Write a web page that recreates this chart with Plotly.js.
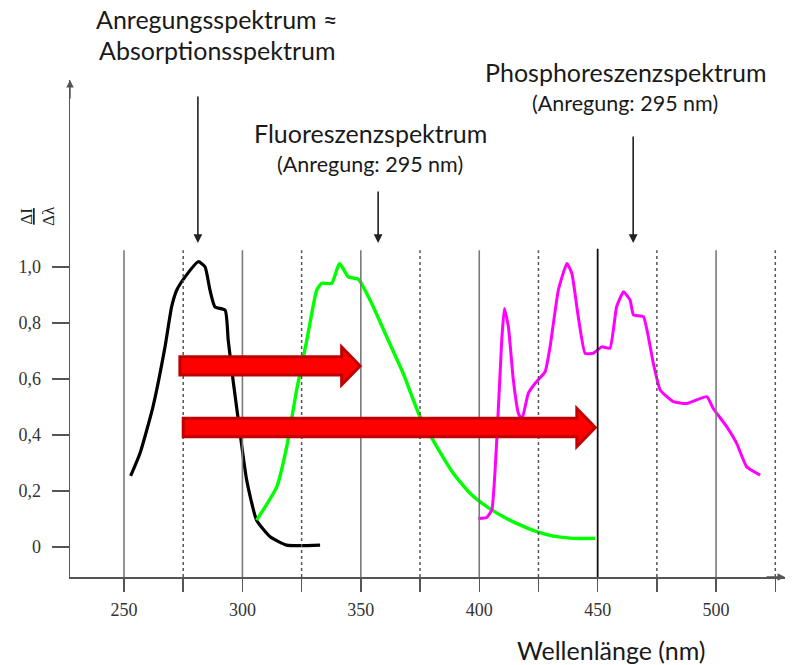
<!DOCTYPE html>
<html>
<head>
<meta charset="utf-8">
<script src="https://cdn.plot.ly/plotly-3.0.1.min.js"></script>
<style>html,body{margin:0;padding:0;background:#fff;}#chart{width:796px;height:665px;}</style>
</head>
<body>
<div id="chart"></div>
<script>
// Absorption / excitation spectrum (black)
const absWl  = [252.8, 256.8, 262.2, 267.3, 270.1, 272.3, 275.8, 281.4, 284.2, 286.3, 288.4, 292.7, 294.0, 296.2, 299.0, 301.8, 306.0, 311.7, 318.7, 332.8];
const absVal = [0.254, 0.336, 0.50, 0.714, 0.858, 0.918, 0.965, 1.019, 1.001, 0.918, 0.858, 0.846, 0.739, 0.586, 0.407, 0.239, 0.096, 0.037, 0.007, 0.007];

// Fluorescence spectrum (green)
const fluWl  = [306.0, 314.5, 318.7, 322.9, 327.2, 331.4, 333.5, 337.7, 341.0, 344.7, 349.0, 353.9, 360.9, 367.9, 375.0, 382.1, 389.1, 396.1, 403.2, 410.2, 417.2, 424.3, 431.3, 439.7, 448.9];
const fluVal = [0.096, 0.215, 0.358, 0.561, 0.739, 0.918, 0.942, 0.942, 1.013, 0.965, 0.956, 0.882, 0.751, 0.620, 0.465, 0.358, 0.263, 0.192, 0.144, 0.108, 0.079, 0.055, 0.039, 0.031, 0.031];

// Phosphorescence spectrum (magenta)
const phoWl  = [399.6, 403.0, 405.3, 407.4, 409.5, 410.6, 412.3, 414.4, 416.5, 418.0, 420.7, 423.6, 427.8, 429.9, 433.4, 437.0, 439.1, 441.8, 444.7, 448.2, 451.7, 455.2, 458.0, 460.9, 463.7, 465.1, 469.3, 473.5, 476.4, 482.0, 487.6, 496.1, 498.8, 504.5, 508.7, 512.9, 518.6];
const phoVal = [0.102, 0.105, 0.132, 0.382, 0.739, 0.852, 0.787, 0.596, 0.478, 0.455, 0.549, 0.585, 0.626, 0.715, 0.918, 1.013, 0.978, 0.823, 0.692, 0.692, 0.715, 0.710, 0.858, 0.912, 0.882, 0.829, 0.823, 0.656, 0.561, 0.519, 0.513, 0.537, 0.495, 0.430, 0.370, 0.287, 0.257];

// Axis ticks
const xTickVals = [250, 275, 300, 325, 350, 375, 400, 425, 450, 475, 500, 525];
const xTickText = ['250', '', '300', '', '350', '', '400', '', '450', '', '500', ''];
const yTickVals = [0, 0.2, 0.4, 0.6, 0.8, 1.0];
const yTickText = ['0', '0,2', '0,4', '0,6', '0,8', '1,0'];

// Grid lines
const solidLines  = [250, 300, 350, 400, 500];
const markerLine  = [450];
const dashedLines = [275, 325, 375, 425, 475, 525];

// Red transition arrows (from, to, level)
const arrowFrom  = [273.6, 275.0];
const arrowTo    = [349.7, 449.0];
const arrowLevel = [0.647, 0.427];

// Pointer arrows above the spectra
const pointerWl = [281.2, 357.3, 465.0];
const pointerLen = [148, 53, 108];

const XR = [227.2, 529.1];
const YR = [-0.107, 1.668];
const gridTop = 1.06;

const shapes = [];
solidLines.forEach(v => shapes.push({type:'line', xref:'x', yref:'y', x0:v, x1:v, y0:YR[0], y1:gridTop, line:{color:'#7a7a7a', width:1.6}}));
markerLine.forEach(v => shapes.push({type:'line', xref:'x', yref:'y', x0:v, x1:v, y0:YR[0], y1:gridTop+0.005, line:{color:'#111', width:1.8}}));
dashedLines.forEach(v => shapes.push({type:'line', xref:'x', yref:'y', x0:v, x1:v, y0:YR[0], y1:gridTop, line:{color:'#555', width:1.5, dash:'dot'}}));

const bodyH = 0.033, headH = 0.068, headL = 7.8;
for (let i = 0; i < arrowFrom.length; i++) {
  const a = arrowFrom[i], b = arrowTo[i], y = arrowLevel[i], h = b - headL;
  const p = `M ${a},${y-bodyH} L ${h},${y-bodyH} L ${h},${y-headH} L ${b},${y} L ${h},${y+headH} L ${h},${y+bodyH} L ${a},${y+bodyH} Z`;
  shapes.push({type:'path', xref:'x', yref:'y', path:p, fillcolor:'#ff0000', line:{color:'#c00000', width:3}, layer:'above'});
}

const txtFont = {family:'Lato, "Open Sans", sans-serif', size:25, color:'#1a1a1a'};
const subFont = {family:'Lato, "Open Sans", sans-serif', size:21.5, color:'#1a1a1a'};
const px = x => (x - 70) / 715;
const py = y => (577 - y) / 497;

const annotations = [
  {text:'Anregungsspektrum ≈', x:px(217), y:py(19), font:txtFont},
  {text:'Absorptionsspektrum', x:px(217), y:py(50), font:txtFont},
  {text:'Fluoreszenzspektrum', x:px(370), y:py(133), font:txtFont},
  {text:'(Anregung: 295 nm)', x:px(370), y:py(164), font:subFont},
  {text:'Phosphoreszenzspektrum', x:px(625), y:py(72), font:txtFont},
  {text:'(Anregung: 295 nm)', x:px(625), y:py(103), font:subFont},
  {text:'Wellenlänge (nm)', x:px(611), y:py(650), font:txtFont},
  {text:'<u>ΔI</u><br>Δλ', x:px(37), y:py(216), textangle:-90, font:{family:'"Liberation Serif", serif', size:17, color:'#222'}}
].map(a => Object.assign({xref:'paper', yref:'paper', xanchor:'center', yanchor:'middle', showarrow:false}, a));

pointerWl.forEach((w, i) => annotations.push({
  xref:'x', yref:'y', x:w, y:1.086, ax:0, ay:-pointerLen[i], text:'', showarrow:true,
  arrowhead:2, arrowsize:1.1, arrowwidth:1.6, arrowcolor:'#222'
}));
// axis arrowheads
annotations.push({xref:'paper', yref:'paper', x:0, y:1, ax:0, ay:20, text:'', showarrow:true, arrowhead:2, arrowsize:1, arrowwidth:1.5, arrowcolor:'#555'});
annotations.push({xref:'paper', yref:'paper', x:1, y:0, ax:-20, ay:0, text:'', showarrow:true, arrowhead:2, arrowsize:1, arrowwidth:1.5, arrowcolor:'#555'});

const traces = [
  {x:absWl, y:absVal, mode:'lines', line:{color:'#000000', width:3.2, shape:'spline', smoothing:0.5}, cliponaxis:false},
  {x:fluWl, y:fluVal, mode:'lines', line:{color:'#00ff00', width:3.4, shape:'spline', smoothing:0.5}, cliponaxis:false},
  {x:phoWl, y:phoVal, mode:'lines', line:{color:'#ff00ff', width:3, shape:'spline', smoothing:0.4}, cliponaxis:false}
];

const tickFont = {family:'"Liberation Serif", serif', size:18, color:'#333'};
const layout = {
  width:796, height:665,
  margin:{l:70, r:11, t:80, b:88},
  paper_bgcolor:'#fff', plot_bgcolor:'#fff',
  showlegend:false,
  xaxis:{range:XR, showgrid:false, zeroline:false, showline:true, linecolor:'#555', linewidth:1.5,
         tickmode:'array', tickvals:xTickVals, ticktext:xTickText, ticks:'outside', ticklen:13, tickwidth:1.5, tickcolor:'#555',
         tickfont:tickFont, ticklabelstandoff:3},
  yaxis:{range:YR, showgrid:false, zeroline:false, showline:true, linecolor:'#555', linewidth:1.5,
         tickmode:'array', tickvals:yTickVals, ticktext:yTickText, ticks:'outside', ticklen:17, tickwidth:1.5, tickcolor:'#555',
         tickfont:tickFont, ticklabelstandoff:7},
  shapes:shapes,
  annotations:annotations
};

Plotly.newPlot('chart', traces, layout, {displayModeBar:false, staticPlot:true});
</script>
</body>
</html>
